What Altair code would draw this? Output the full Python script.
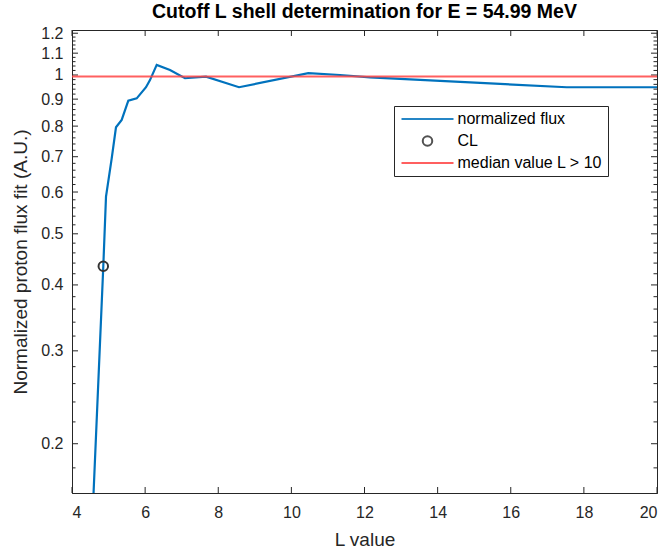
import altair as alt
import pandas as pd

# ---- data ----
L_values = [4.57, 4.856, 4.93, 5.086, 5.203, 5.359, 5.54, 5.77, 6.024, 6.133,
            6.317, 6.68, 7.09, 7.665, 8.568, 10.463, 11.33, 12.15, 14.89, 17.53, 20.0]
flux_values = [0.15, 0.434, 0.588, 0.695, 0.796, 0.822, 0.894, 0.903, 0.948, 0.978,
               1.045, 1.022, 0.986, 0.993, 0.948, 1.008, 1.0, 0.99, 0.968, 0.948, 0.948]
cl_L = [4.856]
cl_flux = [0.434]
median_value = [0.993]
series_names = ["normalized flux", "CL", "median value L > 10"]
series_colors = ["#0072BD", "#333333", "#FF4444"]
x_ticks = [4, 6, 8, 10, 12, 14, 16, 18, 20]
y_major = [0.2, 0.3, 0.4, 0.5, 0.6, 0.7, 0.8, 0.9, 1.0, 1.1, 1.2]
y_minor = [0.18, 0.22, 0.24, 0.26, 0.28, 0.32, 0.34, 0.36, 0.38, 0.42, 0.44, 0.46, 0.48,
           0.52, 0.54, 0.56, 0.58, 0.62, 0.64, 0.66, 0.68, 0.72, 0.74, 0.76, 0.78,
           0.82, 0.84, 0.86, 0.88, 0.92, 0.94, 0.96, 0.98, 1.02, 1.04, 1.06, 1.08,
           1.12, 1.14, 1.16, 1.18]

W, H = 585, 463
FONT = "Liberation Sans"
AX = "#262626"
X_TITLE = "L value"
Y_TITLE = "Normalized proton flux fit (A.U.)"

df_flux = pd.DataFrame({"L": L_values, "flux": flux_values, "series": series_names[0]})
df_cl = pd.DataFrame({"L": cl_L, "flux": cl_flux, "series": series_names[1]})
df_med = pd.DataFrame({"flux": median_value, "series": series_names[2]})
df_xt = pd.DataFrame({"v": x_ticks})
df_ymaj = pd.DataFrame({"v": y_major})
df_ymin = pd.DataFrame({"v": y_minor})

xscale = alt.Scale(domain=[4, 20], nice=False)
yscale = alt.Scale(type="log", domain=[0.1613, 1.217], nice=False)
xaxis = alt.Axis(values=x_ticks, ticks=False, tickSize=0, grid=False, labelPadding=11,
                 titlePadding=10)
yaxis = alt.Axis(values=y_major, format="~g", ticks=False, tickSize=0, grid=False,
                 labelPadding=9, titlePadding=10)


def X(field):
    return alt.X(field, scale=xscale, axis=xaxis, title=X_TITLE)


def Y(field):
    return alt.Y(field, scale=yscale, axis=yaxis, title=Y_TITLE)


legend = alt.Legend(
    title=None,
    orient="none",
    legendX=322,
    legendY=76,
    strokeColor=AX,
    fillColor="white",
    padding=5,
    rowPadding=5,
    labelFont=FONT,
    labelFontSize=16,
    labelColor="#000000",
    labelOffset=22,
    symbolOffset=20.5,
    symbolStrokeWidth=2,
    symbolFillColor="transparent",
)

color = alt.Color("series:N", scale=alt.Scale(domain=series_names, range=series_colors),
                  sort=series_names, legend=legend)
shape = alt.Shape("series:N",
                  scale=alt.Scale(domain=series_names, range=["M-4,0H4", "circle", "M-4,0H4"]),
                  sort=series_names, legend=legend)
size = alt.Size("series:N",
                scale=alt.Scale(type="ordinal", domain=series_names, range=[169, 90, 169]),
                sort=series_names, legend=legend)

line = alt.Chart(df_flux).mark_line(strokeWidth=2.2, clip=True).encode(
    x=X("L:Q"), y=Y("flux:Q"), color=color)

med = alt.Chart(df_med).mark_rule(strokeWidth=2, opacity=0.85).encode(
    y=Y("flux:Q"), color=color)

pts = alt.Chart(df_cl).mark_point(filled=False, strokeWidth=2, opacity=1).encode(
    x=X("L:Q"), y=Y("flux:Q"), color=color, shape=shape, size=size)

tick_style = dict(color=AX, strokeWidth=1)
xt_bottom = alt.Chart(df_xt).mark_rule(**tick_style).encode(
    x=X("v:Q"), y=alt.value(H), y2=alt.value(H - 6))
xt_top = alt.Chart(df_xt).mark_rule(**tick_style).encode(
    x=X("v:Q"), y=alt.value(0), y2=alt.value(6))
yt_left = alt.Chart(df_ymaj).mark_rule(**tick_style).encode(
    y=Y("v:Q"), x=alt.value(0), x2=alt.value(6))
yt_right = alt.Chart(df_ymaj).mark_rule(**tick_style).encode(
    y=Y("v:Q"), x=alt.value(W), x2=alt.value(W - 6))
ym_left = alt.Chart(df_ymin).mark_rule(**tick_style).encode(
    y=Y("v:Q"), x=alt.value(0), x2=alt.value(3.5))
ym_right = alt.Chart(df_ymin).mark_rule(**tick_style).encode(
    y=Y("v:Q"), x=alt.value(W), x2=alt.value(W - 3.5))

chart = alt.layer(
    line, xt_bottom, xt_top, yt_left, yt_right, ym_left, ym_right, med, pts
).properties(
    width=W,
    height=H,
    background="white",
    title=alt.TitleParams(
        "Cutoff L shell determination for E = 54.99 MeV",
        font=FONT, fontSize=19.5, fontWeight="bold", color="#000000",
        anchor="middle", offset=3,
    ),
    autosize=alt.AutoSizeParams(type="none"),
    padding={"left": 72, "top": 30, "right": 11, "bottom": 60},
).configure_view(
    stroke=AX, strokeWidth=1
).configure_axis(
    domainColor=AX, domainWidth=1, labelColor=AX, titleColor=AX,
    labelFont=FONT, titleFont=FONT, labelFontSize=16, titleFontSize=19,
    titleFontWeight="normal",
)

chart.save("out.html", embed_options={"renderer": "svg", "actions": False})
